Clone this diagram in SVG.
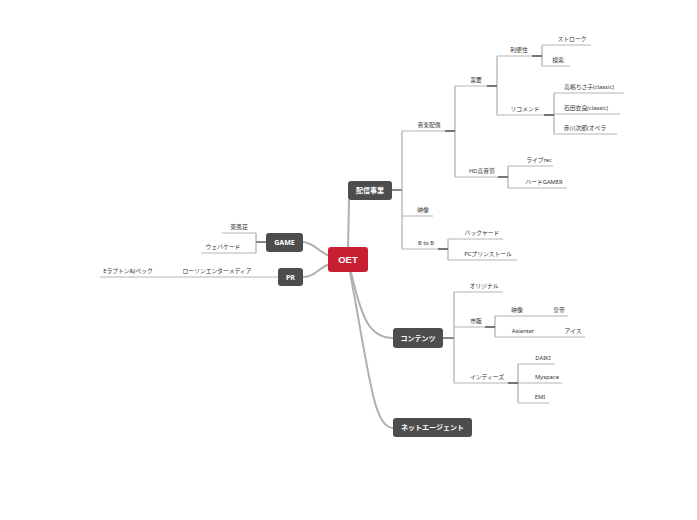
<svg xmlns="http://www.w3.org/2000/svg" width="697" height="520" viewBox="0 0 697 520">
<style>
.bg{fill:#ffffff}
.ln{stroke:#b4b4b4;stroke-width:1;fill:none}
.vl{stroke:#9a9a9a;stroke-width:1;fill:none}
.dk{stroke:#555555;stroke-width:1.4;fill:none}
.main{stroke:#b0b0b0;stroke-width:2;fill:none;stroke-linecap:round}
.lbl{font-family:"Noto Sans","Noto Sans CJK JP",sans-serif;font-size:5.8px;fill:#333333;text-anchor:middle}
.node rect{fill:#4d4d4d}
.nt{font-family:"Noto Sans","Noto Sans CJK JP",sans-serif;font-size:7px;fill:#ffffff;text-anchor:middle;font-weight:bold}
.rt{font-family:"Liberation Sans","Noto Sans",sans-serif;font-size:9.5px;fill:#ffffff;text-anchor:middle;font-weight:bold}
</style>
<rect class="bg" width="697" height="520"/>
<g id="connectors">
<path class="main" d="M348,249 L349,200"/>
<path class="main" d="M330,256 C318,252 315,243 303,242"/>
<path class="main" d="M330,264 C318,268 315,277 303,277"/>
<path class="main" d="M351,272 C362,320 370,338 393,338"/>
<path class="main" d="M350,272 C370,380 374,428 393,428"/>
<!-- 配信事業 tree -->
<path class="dk" d="M392,190 H402"/>
<path class="vl" d="M402,131 V249"/>
<path class="ln" d="M402,131 H455 M402,216 H433 M402,249 H448"/>
<path class="vl" d="M455,86 V177"/>
<path class="ln" d="M455,86 H497 M455,177 H508"/>
<path class="vl" d="M497,56 V115"/>
<path class="ln" d="M497,56 H542 M497,115 H554"/>
<path class="vl" d="M542,45 V66"/>
<path class="ln" d="M542,45 H591 M542,66 H570"/>
<path class="vl" d="M554,93 V134"/>
<path class="ln" d="M554,93 H624 M554,114 H620 M554,134 H617"/>
<path class="vl" d="M508,166 V188"/>
<path class="ln" d="M508,166 H553 M508,188 H567"/>
<path class="vl" d="M448,239 V260"/>
<path class="ln" d="M448,239 H503 M448,260 H517"/>
<path class="dk" d="M445,131 H455 M487,86 H497 M532,56 H542 M544,115 H554 M498,177 H508 M438,249 H448"/>
<!-- GAME tree -->
<path class="dk" d="M266,242 H256"/>
<path class="vl" d="M256,233 V253"/>
<path class="ln" d="M222,233 H256 M201,253 H256"/>
<!-- PR tree -->
<path class="ln" d="M100,277 H278"/>
<!-- コンテンツ tree -->
<path class="dk" d="M443,338 H454"/>
<path class="vl" d="M454,292 V383"/>
<path class="ln" d="M454,292 H503 M454,327 H495 M454,383 H518"/>
<path class="vl" d="M495,316 V337"/>
<path class="ln" d="M495,316 H568 M495,337 H585"/>
<path class="vl" d="M518,364 V403"/>
<path class="ln" d="M518,364 H555 M518,383 H562 M518,403 H549"/>
<path class="dk" d="M485,327 H495 M508,383 H518"/>
</g>
<g id="root">
<rect x="328" y="247" width="40" height="25" rx="3" fill="#c91f33"/>
<text class="rt" x="348" y="263">OET</text>
</g>
<g id="n-haishin" class="node">
<rect x="348" y="181" width="44" height="19" rx="3"/>
<text class="nt" x="370" y="193">配信事業</text>
</g>
<g id="n-game" class="node">
<rect x="266" y="233" width="37" height="19" rx="3"/>
<text class="nt" x="284.5" y="245">GAME</text>
</g>
<g id="n-pr" class="node">
<rect x="278" y="268" width="25" height="18" rx="3"/>
<text class="nt" x="290.5" y="280">PR</text>
</g>
<g id="n-contents" class="node">
<rect x="393" y="328" width="50" height="20" rx="3"/>
<text class="nt" x="418" y="340.5">コンテンツ</text>
</g>
<g id="n-netagent" class="node">
<rect x="393" y="418" width="79" height="19" rx="3"/>
<text class="nt" x="432.5" y="430">ネットエージェント</text>
</g>
<g id="labels">
<g id="l-ongaku"><text class="lbl" x="429" y="127">音楽配信</text></g>
<g id="l-juyo"><text class="lbl" x="476" y="82">需要</text></g>
<g id="l-riben"><text class="lbl" x="519" y="52">利便性</text></g>
<g id="l-stroke"><text class="lbl" x="572" y="41">ストローク</text></g>
<g id="l-kensaku"><text class="lbl" x="558" y="62">検索</text></g>
<g id="l-recommend"><text class="lbl" x="525" y="111">リコメンド</text></g>
<g id="l-takashima"><text class="lbl" x="589" y="89">高嶋ちさ子(classic)</text></g>
<g id="l-ishida"><text class="lbl" x="586" y="110">石田衣良(classic)</text></g>
<g id="l-akagawa"><text class="lbl" x="585" y="130">赤川次郎(オペラ</text></g>
<g id="l-hd"><text class="lbl" x="482" y="173">HD高音質</text></g>
<g id="l-live"><text class="lbl" x="539" y="162">ライブrec</text></g>
<g id="l-hard"><text class="lbl" x="544" y="184">ハードGAMER</text></g>
<g id="l-eizo1"><text class="lbl" x="423" y="212">映像</text></g>
<g id="l-btob"><text class="lbl" x="426" y="245">B to B</text></g>
<g id="l-back"><text class="lbl" x="482" y="235">バックヤード</text></g>
<g id="l-pc"><text class="lbl" x="488" y="256">PCプリンストール</text></g>
<g id="l-tonpu"><text class="lbl" x="239" y="229">東風荘</text></g>
<g id="l-web"><text class="lbl" x="223" y="249">ウェバケード</text></g>
<g id="l-lawson"><text class="lbl" x="217" y="273">ローソンエンターメディア</text></g>
<g id="l-e"><text class="lbl" x="128" y="273">Eラブトン&amp;Jペック</text></g>
<g id="l-original"><text class="lbl" x="484" y="288">オリジナル</text></g>
<g id="l-shihan"><text class="lbl" x="476" y="323">市販</text></g>
<g id="l-eizo2"><text class="lbl" x="517" y="312">映像</text></g>
<g id="l-kotei"><text class="lbl" x="559" y="312">皇帝</text></g>
<g id="l-asian"><text class="lbl" x="523" y="333">Asiantar</text></g>
<g id="l-ice"><text class="lbl" x="573" y="333">アイス</text></g>
<g id="l-indies"><text class="lbl" x="487" y="379">インディーズ</text></g>
<g id="l-daiki"><text class="lbl" x="543" y="360">DAIKI</text></g>
<g id="l-myspace"><text class="lbl" x="547" y="379">Myspace</text></g>
<g id="l-emi"><text class="lbl" x="540" y="399">EMI</text></g>
</g>
</svg>
